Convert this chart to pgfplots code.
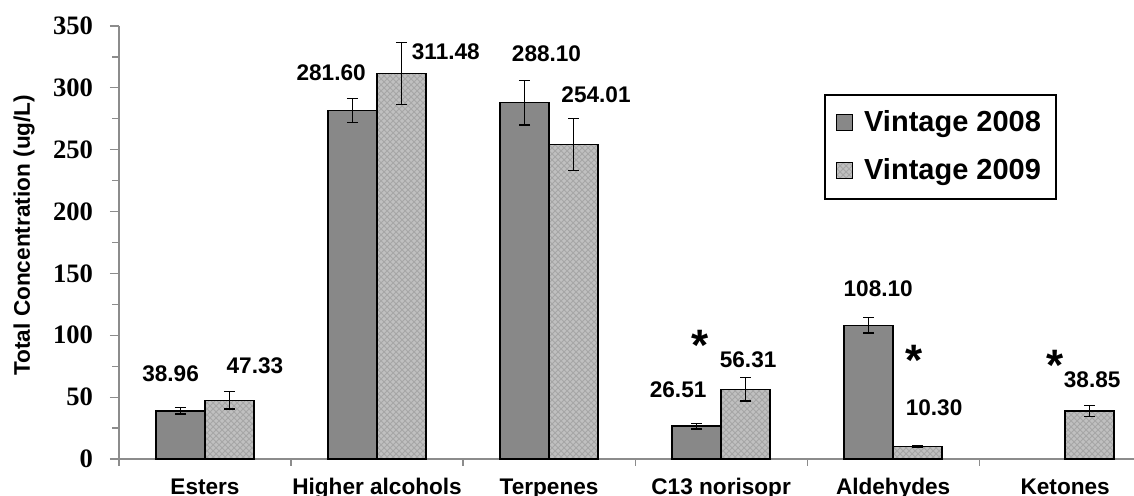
\documentclass[border=0pt]{standalone}
\usepackage{fontspec}
\setmainfont{Liberation Sans}
\newfontfamily\tnr{Liberation Serif}
\usepackage{pgfplots}
\pgfplotsset{compat=1.18}
\usetikzlibrary{patterns}
\definecolor{dark}{HTML}{888888}
\definecolor{light}{HTML}{C0C0C0}
\begin{document}
\begin{tikzpicture}
\useasboundingbox (-59.5pt,-18.5pt) rectangle (507.5pt,229.5pt);
\begin{axis}[
  at={(0pt,0pt)}, anchor=south west,
  scale only axis, width=507.5pt, height=216.5pt,
  xmin=-0.5, xmax=5.4, ymin=0, ymax=350,
  axis x line=bottom, axis y line=left,
  axis line style={draw=black!45, line width=0.6pt, -},
  ybar, bar width=0.285,
  legend image code/.code={\draw[#1, line width=0.6pt] (0pt,-4pt) rectangle (8pt,4pt); \path (11.5pt,0pt);},
  xtick={0,...,5},
  xticklabels={Esters, Higher alcohols, Terpenes, C13 norisopr, Aldehydes, Ketones},
  major x tick style={draw=none},
  minor xtick={-0.5,0.5,...,4.5},
  ytick={0,50,...,350}, minor ytick={25,75,...,325},
  tick align=outside,
  major tick length=4.5pt, minor tick length=3.3pt,
  tick style={draw=black!45, line width=0.6pt},
  xticklabel style={font=\bfseries\fontsize{11.3}{13}\selectfont, text height=8.5pt, text depth=2.5pt, yshift=-1pt},
  yticklabel style={font=\tnr\bfseries\fontsize{13.3}{15}\selectfont, xshift=-5pt},
  /pgf/number format/assume math mode=true,
  ylabel={Total Concentration (ug/L)},
  ylabel style={font=\bfseries\fontsize{11.3}{13}\selectfont, at={(axis description cs:-0.0936,0.517)}, anchor=center},
  clip=false,
  legend cell align=left,
  legend style={at={(axis description cs:0.6946,0.843)}, anchor=north west, draw=black, line width=0.8pt,
    font=\bfseries\fontsize{14.5}{17}\selectfont, inner xsep=5.5pt, inner ysep=6pt, row sep=8pt},
]
\addplot[bar shift=-0.1425, fill=dark, draw=black, line width=0.75pt,
  error bars/.cd, y dir=both, y explicit,
  error bar style={black, line width=0.7pt},
  error mark options={black, line width=0.7pt, mark size=2.8pt, rotate=90}]
coordinates {
  (0,38.96) +- (0,2.7)
  (1,281.60) +- (0,9.6)
  (2,288.10) +- (0,18)
  (3,26.51) +- (0,2.3)
  (4,108.10) +- (0,6.3)
};
\addlegendentry{Vintage 2008}
\addplot[bar shift=0.1425, fill=light, draw=black, line width=0.75pt,
  postaction={pattern=crosshatch, pattern color=black!35},
  error bars/.cd, y dir=both, y explicit,
  error bar style={black, line width=0.7pt},
  error mark options={black, line width=0.7pt, mark size=2.8pt, rotate=90}]
coordinates {
  (0,47.33) +- (0,7)
  (1,311.48) +- (0,25)
  (2,254.01) +- (0,21)
  (3,56.31) +- (0,9.4)
  (4,10.30) +- (0,0.6)
  (5,38.85) +- (0,4.4)
};
\addlegendentry{Vintage 2009}
\begin{scope}[every node/.style={font=\bfseries\fontsize{11.3}{13}\selectfont}]
\node at (axis cs:-0.20,68.7) {38.96};
\node at (axis cs:0.29,75.2) {47.33};
\node at (axis cs:0.733,312.5) {281.60};
\node at (axis cs:1.40,329.4) {311.48};
\node at (axis cs:1.985,327.4) {288.10};
\node at (axis cs:2.273,294.3) {254.01};
\node at (axis cs:2.75,55.8) {26.51};
\node at (axis cs:3.157,80) {56.31};
\node at (axis cs:3.913,137.4) {108.10};
\node at (axis cs:4.238,41.2) {10.30};
\node at (axis cs:5.157,63.9) {38.85};
\end{scope}
\begin{scope}[every node/.style={font=\bfseries\fontsize{22}{24}\selectfont, inner sep=0pt, anchor=north}]
\node at (axis cs:2.878,104.3) {*};
\node at (axis cs:4.122,92.2) {*};
\node at (axis cs:4.94,88.1) {*};
\end{scope}
\end{axis}
\end{tikzpicture}
\end{document}
